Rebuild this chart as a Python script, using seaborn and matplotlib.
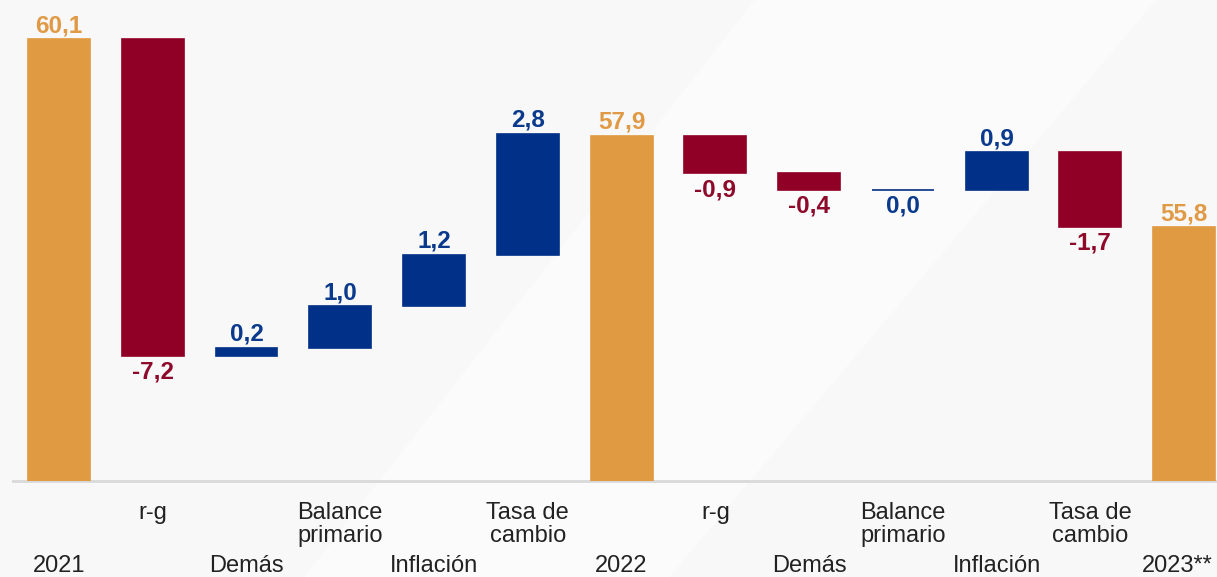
import numpy as np
import pandas as pd
import seaborn as sns
import matplotlib.pyplot as plt
from matplotlib.patches import Polygon

# categories along the x axis (two labels repeat, so bars are keyed by position)
categories = ["2021", "r-g", "Demás", "Balance\nprimario", "Inflación", "Tasa de\ncambio",
              "2022", "r-g", "Demás", "Balance\nprimario", "Inflación", "Tasa de\ncambio",
              "2023**"]
# kind of each bar: total level or change
kinds = ["total", "chg", "chg", "chg", "chg", "chg",
         "total", "chg", "chg", "chg", "chg", "chg",
         "total"]
# values (totals are levels, the rest are contributions)
values = [60.1, -7.24, 0.18, 0.96, 1.17, 2.77,
          57.9, -0.86, -0.38, 0.0, 0.86, -1.71,
          55.8]

ORANGE = "#E09A41"
RED = "#900026"
BLUE = "#003087"
label_col = {ORANGE: "#E09A45", RED: "#8E0A2B", BLUE: "#0B3A8C"}

# build waterfall bottoms / heights
bottoms, heights, colors, tops_up = [], [], [], []
level = 0.0
for k, v in zip(kinds, values):
    if k == "total":
        level = v
        bottoms.append(0.0)
        heights.append(v)
        colors.append(ORANGE)
        tops_up.append(True)
    else:
        start, end = level, level + v
        bottoms.append(min(start, end))
        heights.append(abs(v))
        colors.append(BLUE if v >= 0 else RED)
        tops_up.append(v > 0)
        level = end

df = pd.DataFrame({"pos": np.arange(len(categories)), "height": heights})

sns.set_theme(style="white")
plt.rcParams["font.family"] = ["Liberation Sans", "DejaVu Sans"]

fig = plt.figure(figsize=(12.17, 5.77), dpi=100)
fig.patch.set_facecolor("#f8f8f8")
# faint light band in the background
fig.patches.append(Polygon([(0.25, 0.0), (0.55, 0.0), (0.95, 1.0), (0.62, 1.0)],
                           closed=True, transform=fig.transFigure,
                           facecolor="#fbfbfb", edgecolor="none", zorder=-5))

ax = fig.add_axes([13 / 1217, 1 - 481 / 577, 1204 / 1217, 481 / 577])
ax.patch.set_alpha(0)

sns.barplot(data=df, x="pos", y="height", bottom=np.array(bottoms), color=BLUE,
            width=0.66, errorbar=None, ax=ax, linewidth=1.2, saturation=1)
for patch, c in zip(ax.patches, colors):
    patch.set_facecolor(c)
    patch.set_edgecolor(c)

ax.set_xlim(-0.49, 12.35)
ax.set_ylim(50, 61)
ax.set_xlabel("")
ax.set_ylabel("")
ax.set_xticks([])
ax.set_yticks([])
for s in ["top", "right", "left"]:
    ax.spines[s].set_visible(False)
ax.spines["bottom"].set_color("#d9d9d9")
ax.spines["bottom"].set_linewidth(2)
ax.spines["bottom"].set_zorder(0)

# value labels
for i, (k, v) in enumerate(zip(kinds, values)):
    c = label_col[colors[i]]
    txt = f"{v:.1f}".replace(".", ",")
    if txt == "-0,0":
        txt = "0,0"
    if tops_up[i]:
        y = bottoms[i] + heights[i]
        ax.annotate(txt, (i, y), xytext=(0, 1.5), textcoords="offset points",
                    ha="center", va="bottom", fontsize=17.5, fontweight="bold", color=c)
    else:
        y = bottoms[i]
        ax.annotate(txt, (i, y), xytext=(0, -3.5), textcoords="offset points",
                    ha="center", va="top", fontsize=17.5, fontweight="bold", color=c)

# category labels in two staggered rows
for i, lab in enumerate(categories):
    off = -15 if i % 2 == 1 else -53
    dx = -5 if i == len(categories) - 1 else 0  # keep the last one inside the frame
    ax.annotate(lab, (i, 0), xycoords=("data", "axes fraction"), xytext=(dx, off),
                textcoords="offset points", ha="center", va="top", fontsize=17,
                color="#222222", linespacing=1.08, annotation_clip=False)

fig.savefig("out.png", dpi=100, facecolor=fig.get_facecolor())
